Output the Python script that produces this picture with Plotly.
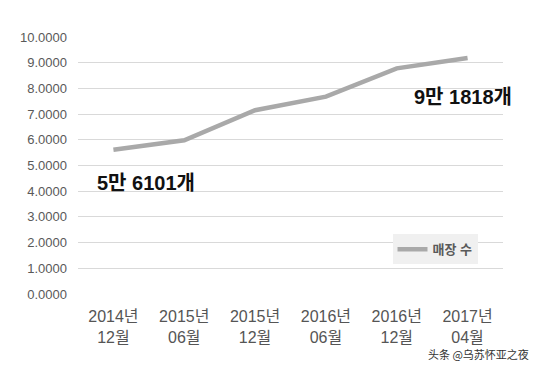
import plotly.graph_objects as go

categories = ["2014년<br>12월", "2015년<br>06월", "2015년<br>12월", "2016년<br>06월", "2016년<br>12월", "2017년<br>04월"]
store_counts = [5.6101, 5.98, 7.15, 7.68, 8.78, 9.1818]
y_ticks = [0, 1, 2, 3, 4, 5, 6, 7, 8, 9, 10]
y_tick_labels = [f"{v:.4f}" for v in y_ticks]

fig = go.Figure()
fig.add_trace(go.Scatter(
    x=categories, y=store_counts, mode="lines", name="<b>매장 수</b>",
    line=dict(color="#a9a9a9", width=4.5),
))

font_main = "Liberation Sans, Arial, Noto Sans CJK KR, sans-serif"

fig.update_layout(
    width=541, height=373,
    margin=dict(l=70, r=46, t=29, b=87, autoexpand=False),
    paper_bgcolor="white", plot_bgcolor="white",
    showlegend=True,
    legend=dict(x=0.74, y=0.232, xanchor="left", yanchor="top",
                bgcolor="#f0f0f0", font=dict(size=13, color="#5a5a5a", family=font_main),
                itemwidth=30),
    xaxis=dict(range=[-0.5, 5.5], showgrid=False, zeroline=False, showline=False, ticks="",
               ticklabelstandoff=11,
               tickfont=dict(size=16, color="#555555", family=font_main)),
    yaxis=dict(range=[0, 10], tickvals=y_ticks, ticktext=y_tick_labels,
               showgrid=True, gridcolor="#d9d9d9", gridwidth=1,
               zeroline=False, showline=False, ticks="", ticklabelstandoff=10,
               tickfont=dict(size=13, color="#595959", family=font_main)),
    annotations=[
        dict(x=categories[0], y=4.32, text="<b>5만 6101개</b>", showarrow=False,
             xanchor="left", xshift=-18,
             font=dict(size=20, color="#111111", family=font_main)),
        dict(x=categories[5], y=7.67, text="<b>9만 1818개</b>", showarrow=False,
             xanchor="right", xshift=46,
             font=dict(size=20, color="#111111", family=font_main)),
        dict(x=1.0, y=0.0, xref="paper", yref="paper", yshift=-60, xshift=28,
             text="头条 @乌苏怀亚之夜", showarrow=False, xanchor="right", yanchor="middle",
             font=dict(size=11, color="#333333", family="Noto Sans CJK SC")),
    ],
)

fig.write_html("out.html")
